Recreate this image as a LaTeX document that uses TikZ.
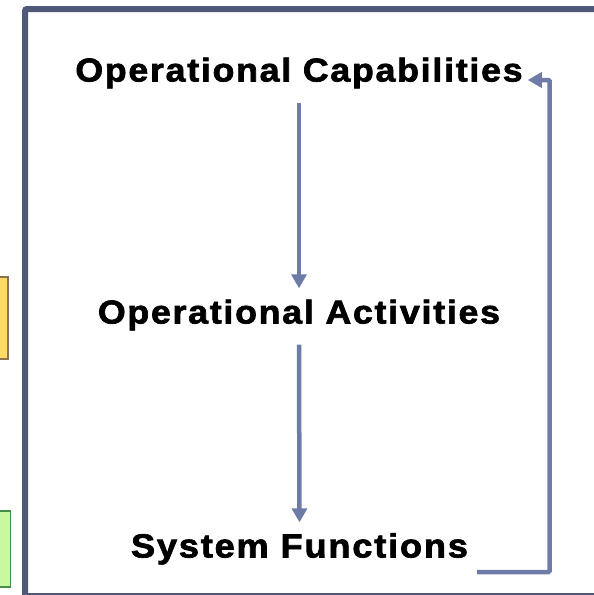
\documentclass[tikz,border=0pt]{standalone}
\usepackage{fontspec}
\setmainfont{Liberation Sans}
\newfontfamily\wideboldfont[LetterSpace=5,FakeBold=2]{Liberation Sans Bold}
\usetikzlibrary{arrows.meta}
\definecolor{frame}{RGB}{80,88,122}
\definecolor{flow}{RGB}{110,123,166}
\definecolor{ybox}{RGB}{255,217,102}
\definecolor{yline}{RGB}{140,115,80}
\definecolor{gbox}{RGB}{200,248,160}
\definecolor{gline}{RGB}{70,140,75}
\newcommand{\widen}[1]{\scalebox{1.08}[1]{#1}}
\tikzset{
  lbl/.style={anchor=base, font=\wideboldfont\fontsize{33}{33}\selectfont,
    text height=23pt, text depth=9pt, inner ysep=12pt, inner xsep=5pt},
  arr/.style={draw=flow, line width=4.5pt,
    -{Triangle[width=15pt,length=14pt]}},
  framebox/.style={draw=frame, line width=6pt, rounded corners=2pt},
}
\begin{document}
\begin{tikzpicture}[x=1pt,y=-1pt]
\useasboundingbox (0,0) rectangle (594,595);
\clip (0,0) rectangle (594,595);
\fill[white] (0,0) rectangle (594,595);
% side boxes of neighbouring shapes
\draw[fill=ybox, draw=yline, line width=1.5pt] (-20,277) rectangle (8,359);
\draw[fill=gbox, draw=gline, line width=1.5pt] (-20,511) rectangle (10.5,587);
% frame
\draw[framebox] (25,9) rectangle (600,596);
% labels
\node[lbl] (oc) at (299,81.5) {\widen{Operational Capabilities}};
\node[lbl] (oa) at (299,323.5) {\widen{Operational Activities}};
\node[lbl, font=\wideboldfont\fontsize{33.5}{33.5}\selectfont] (sf) at (299.5,557.5) {\widen{System Functions}};
% connectors
\draw[arr] (oc.south) -- (oa.north);
\draw[arr] (oa.south) -- (sf.north);
\coordinate (turn) at (549.5,572);
\draw[arr, rounded corners=1pt] ([xshift=4pt,yshift=-14.5pt]sf.base east) -| (turn) |- ([yshift=1.5pt]oc.base east);
\end{tikzpicture}
\end{document}
